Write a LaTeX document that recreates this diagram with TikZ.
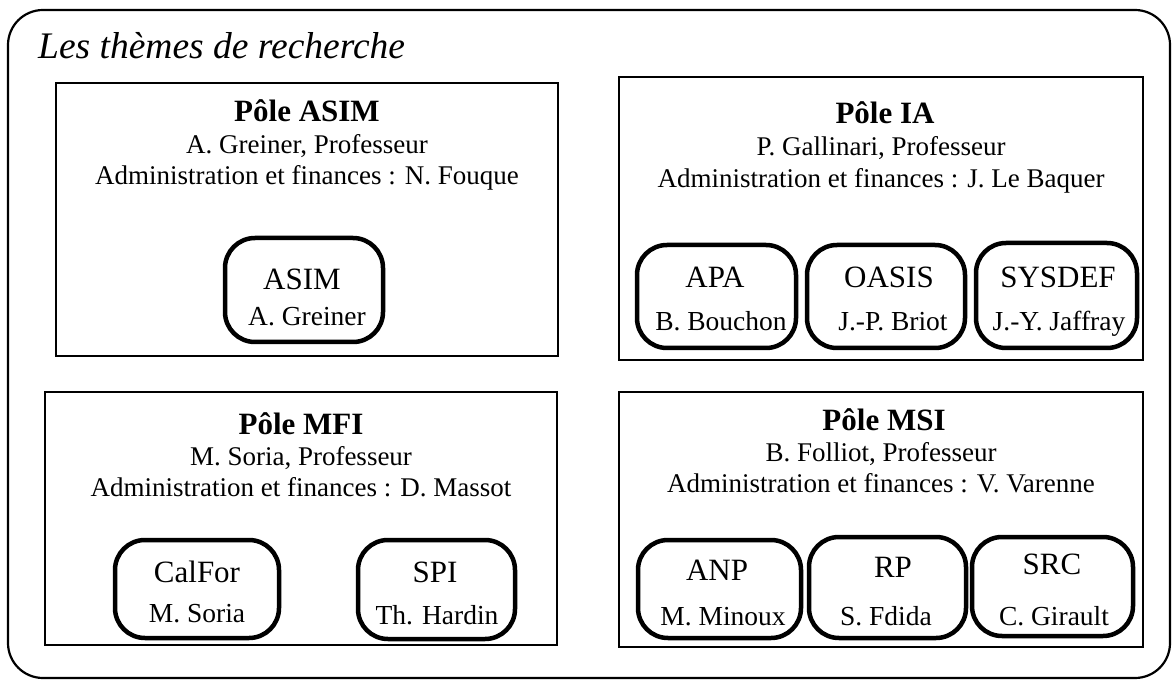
\documentclass[tikz,border=0pt]{standalone}
\usepackage{fontspec}
\setmainfont{Liberation Serif}
\tikzset{
  frame/.style={draw, line width=2.2pt, rectangle, rounded corners=35pt, inner sep=0pt},
  polebox/.style={draw, line width=2pt, rectangle, inner sep=0pt},
  teambox/.style={draw, line width=4.5pt, rectangle, rounded corners=30pt, inner sep=0pt},
  heading/.style={anchor=base west, inner sep=0pt, font=\fontsize{37.5}{42}\selectfont\itshape},
  poletitle/.style={anchor=base, inner sep=0pt, font=\fontsize{31}{36}\selectfont\bfseries},
  poletext/.style={anchor=base, inner sep=0pt, font=\fontsize{27}{30}\selectfont},
  teamname/.style={anchor=base, inner sep=0pt, font=\fontsize{31}{36}\selectfont},
  teamhead/.style={anchor=base, inner sep=0pt, font=\fontsize{27.5}{32}\selectfont},
}
\begin{document}
\begin{tikzpicture}[x=1pt, y=-1pt]
\useasboundingbox (0,0) rectangle (1175,684);
% outer frame
\node[frame, minimum width=1162pt, minimum height=668pt] (outer) at (589,344) {};
\node[heading] (title) at (38,59) {Les thèmes de recherche};

% Pole ASIM
\node[polebox, minimum width=502pt, minimum height=273pt] (asimbox) at (307,219.5) {};
\node[poletitle] (asimT) at (307,122) {Pôle ASIM};
\node[poletext] (asimR) at (307,154) {A. Greiner, Professeur};
\node[poletext] (asimA) at (307,185) {Administration et finances : N. Fouque};
\node[teambox, minimum width=158pt, minimum height=104pt] (asim) at (304,290) {};
\node[teamname] (asimN) at (302,290) {ASIM};
\node[teamhead] (asimH) at (307,326) {A. Greiner};

% Pole IA
\node[polebox, minimum width=524pt, minimum height=283pt] (iabox) at (881,218.5) {};
\node[poletitle] (iaT) at (885,124) {Pôle IA};
\node[poletext] (iaR) at (881,156) {P. Gallinari, Professeur};
\node[poletext] (iaA) at (881,188) {Administration et finances : J. Le Baquer};
\node[teambox, minimum width=159pt, minimum height=103pt] (apa) at (716.5,296.5) {};
\node[teamname] (apaN) at (715,288) {APA};
\node[teamhead] (apaH) at (721,331) {B. Bouchon};
\node[teambox, minimum width=158pt, minimum height=103pt] (oasis) at (886,296.5) {};
\node[teamname] (oasisN) at (889,288) {OASIS};
\node[teamhead] (oasisH) at (893,331) {J.-P. Briot};
\node[teambox, minimum width=161pt, minimum height=105pt] (sysdef) at (1056.5,295.5) {};
\node[teamname] (sysdefN) at (1058,288) {SYSDEF};
\node[teamhead] (sysdefH) at (1059,331) {J.-Y. Jaffray};

% Pole MFI
\node[polebox, minimum width=512pt, minimum height=253pt] (mfibox) at (301,518.5) {};
\node[poletitle] (mfiT) at (301,434) {Pôle MFI};
\node[poletext] (mfiR) at (301,465) {M. Soria, Professeur};
\node[poletext] (mfiA) at (301,496) {Administration et finances : D. Massot};
\node[teambox, minimum width=164pt, minimum height=98pt] (calfor) at (197,589) {};
\node[teamname] (calforN) at (197,582) {CalFor};
\node[teamhead] (calforH) at (197,622) {M. Soria};
\node[teambox, minimum width=157pt, minimum height=99pt] (spi) at (436.5,589.5) {};
\node[teamname] (spiN) at (435,582) {SPI};
\node[teamhead] (spiH) at (437,624) {Th. Hardin};

% Pole MSI
\node[polebox, minimum width=524pt, minimum height=255pt] (msibox) at (881,519.5) {};
\node[poletitle] (msiT) at (884,430) {Pôle MSI};
\node[poletext] (msiR) at (881,461) {B. Folliot, Professeur};
\node[poletext] (msiA) at (881,492) {Administration et finances : V. Varenne};
\node[teambox, minimum width=163pt, minimum height=98pt] (anp) at (719.5,589) {};
\node[teamname] (anpN) at (717,580) {ANP};
\node[teamhead] (anpH) at (723,625) {M. Minoux};
\node[teambox, minimum width=157pt, minimum height=101pt] (rp) at (887.5,587.5) {};
\node[teamname] (rpN) at (893,577) {RP};
\node[teamhead] (rpH) at (886,625) {S. Fdida};
\node[teambox, minimum width=161pt, minimum height=99pt] (src) at (1052.5,586.5) {};
\node[teamname] (srcN) at (1052,574) {SRC};
\node[teamhead] (srcH) at (1054,625) {C. Girault};
\end{tikzpicture}
\end{document}
